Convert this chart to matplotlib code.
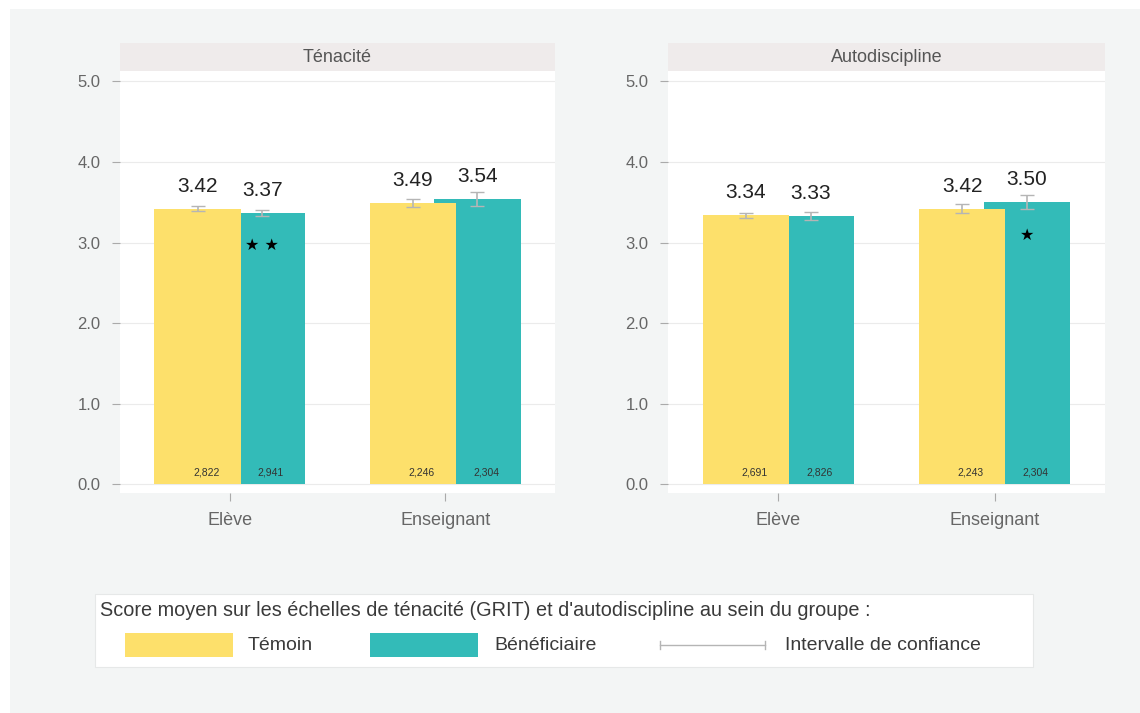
import matplotlib
matplotlib.use("Agg")
import matplotlib.pyplot as plt
from matplotlib.patches import Rectangle
from matplotlib.lines import Line2D
import numpy as np

plt.rcParams['font.family'] = ['Liberation Sans', 'DejaVu Sans']

# ---- data ----
panels = ["Ténacité", "Autodiscipline"]
categories = ["Elève", "Enseignant"]
temoin = [[3.42, 3.49], [3.34, 3.42]]
benef = [[3.37, 3.54], [3.33, 3.50]]
temoin_ci = [[0.03, 0.05], [0.03, 0.055]]
benef_ci = [[0.04, 0.085], [0.055, 0.085]]
temoin_n = [["2,822", "2,246"], ["2,691", "2,243"]]
benef_n = [["2,941", "2,304"], ["2,826", "2,304"]]
benef_stars = [["★★", ""], ["", "★"]]
yticks = [0.0, 1.0, 2.0, 3.0, 4.0, 5.0]
legend_title = "Score moyen sur les échelles de ténacité (GRIT) et d'autodiscipline au sein du groupe :"
legend_labels = ["Témoin", "Bénéficiaire", "Intervalle de confiance"]

YELLOW = "#FDE06B"
TEAL = "#33BBB8"
BG = "#F3F5F5"
STRIP = "#EFEBEB"
GRID = "#EBEBEB"
TXT = "#666666"
CI = "#B5B5B5"

W, H = 1140, 713
fig = plt.figure(figsize=(W / 100, H / 100), dpi=100)
fig.patch.set_facecolor("white")

def fx(px):
    return px / W

def fy(py):
    return 1 - py / H

# background
fig.add_artist(Rectangle((fx(10), 0), 1 - fx(10), fy(9), transform=fig.transFigure,
                         facecolor=BG, edgecolor="none", zorder=0))

panel_lefts = [120, 668]
panel_rights = [555, 1105]
ax_top, ax_bot = 71, 493
strip_top = 43

x = np.arange(len(categories))
bw = 0.4
off = 0.15

for p, title in enumerate(panels):
    l, r = panel_lefts[p], panel_rights[p]
    ax = fig.add_axes([fx(l), fy(ax_bot), fx(r) - fx(l), fy(ax_top) - fy(ax_bot)])
    ax.set_facecolor("white")
    ax.set_xlim(-0.51, 1.51)
    ax.set_ylim(-0.11, 5.13)
    for s in ax.spines.values():
        s.set_visible(False)
    ax.set_yticks(yticks)
    ax.set_yticklabels([f"{v:.1f}" for v in yticks])
    ax.set_xticks(x)
    ax.set_xticklabels(categories)
    ax.tick_params(axis="y", colors="#AAAAAA", labelcolor=TXT, labelsize=12, length=6, pad=8, width=0.8)
    ax.tick_params(axis="x", colors="#AAAAAA", labelcolor=TXT, labelsize=13, length=6, pad=8, width=0.8)
    ax.grid(axis="y", color=GRID, linewidth=0.8, zorder=0)
    ax.set_axisbelow(True)

    tv = temoin[p]
    bv = benef[p]
    ax.bar(x + off, bv, width=bw, color=TEAL, zorder=2)
    ax.bar(x - off, tv, width=bw, color=YELLOW, zorder=3)
    ax.errorbar(x - off, tv, yerr=temoin_ci[p], fmt="none", ecolor=CI, elinewidth=1.2,
                capsize=5, capthick=1.0, zorder=4)
    ax.errorbar(x + off, bv, yerr=benef_ci[p], fmt="none", ecolor=CI, elinewidth=1.2,
                capsize=5, capthick=1.0, zorder=4)
    for i in range(len(categories)):
        ax.text(x[i] - off, tv[i] + 0.28, f"{tv[i]:.2f}", ha="center", va="center",
                fontsize=15, color="#222222", zorder=5)
        ax.text(x[i] + off, bv[i] + 0.28, f"{bv[i]:.2f}", ha="center", va="center",
                fontsize=15, color="#222222", zorder=5)
        ax.text(x[i] - off + 0.04, 0.14, temoin_n[p][i], ha="center", va="center",
                fontsize=7.5, color="#333333", zorder=5)
        ax.text(x[i] + off + 0.04, 0.14, benef_n[p][i], ha="center", va="center",
                fontsize=7.5, color="#333333", zorder=5)
        if benef_stars[p][i]:
            ax.text(x[i] + off, bv[i] - 0.41, " ".join(benef_stars[p][i]), ha="center", va="center",
                    fontsize=11.5, color="black", family=["DejaVu Sans"], zorder=5)

    # strip
    sax = fig.add_axes([fx(l), fy(ax_top), fx(r) - fx(l), fy(strip_top) - fy(ax_top)])
    sax.set_facecolor(STRIP)
    sax.set_xticks([])
    sax.set_yticks([])
    for s in sax.spines.values():
        s.set_visible(False)
    sax.text(0.5, 0.5, title, ha="center", va="center", fontsize=13, color="#555555",
             transform=sax.transAxes)

# legend box
fig.add_artist(Rectangle((fx(95), fy(667)), fx(1033) - fx(95), fy(594) - fy(667),
                         transform=fig.transFigure, facecolor="white",
                         edgecolor="#E6E8E8", linewidth=0.8, zorder=1))
fig.text(fx(100), fy(611), legend_title, ha="left", va="center", fontsize=14.3, color="#3A3A3A", zorder=2)
fig.add_artist(Rectangle((fx(125), fy(657)), fx(233) - fx(125), fy(633) - fy(657),
                         transform=fig.transFigure, facecolor=YELLOW, edgecolor="none", zorder=2))
fig.text(fx(248), fy(645), legend_labels[0], ha="left", va="center", fontsize=14, color="#3A3A3A", zorder=2)
fig.add_artist(Rectangle((fx(370), fy(657)), fx(478) - fx(370), fy(633) - fy(657),
                         transform=fig.transFigure, facecolor=TEAL, edgecolor="none", zorder=2))
fig.text(fx(494), fy(645), legend_labels[1], ha="left", va="center", fontsize=14, color="#3A3A3A", zorder=2)
fig.add_artist(Line2D([fx(660), fx(765)], [fy(645), fy(645)], transform=fig.transFigure,
                      color=CI, linewidth=1.0, zorder=2))
for xe in (660, 765):
    fig.add_artist(Line2D([fx(xe), fx(xe)], [fy(641), fy(649)], transform=fig.transFigure,
                          color=CI, linewidth=1.0, zorder=2))
fig.text(fx(785), fy(645), legend_labels[2], ha="left", va="center", fontsize=14, color="#3A3A3A", zorder=2)

fig.savefig("out.png", dpi=100, facecolor=fig.get_facecolor())
